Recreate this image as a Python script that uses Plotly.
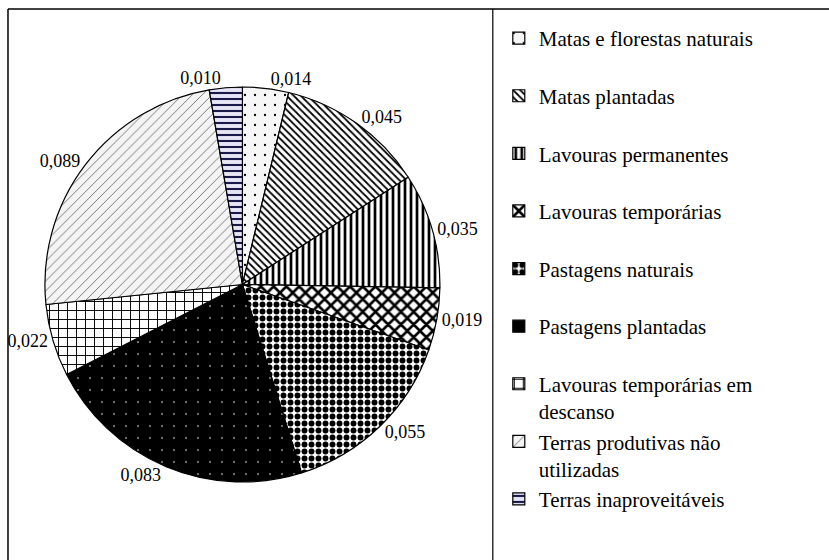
import plotly.graph_objects as go

W, H = 829, 560

categories = [
    "Matas e florestas naturais",
    "Matas plantadas",
    "Lavouras permanentes",
    "Lavouras temporárias",
    "Pastagens naturais",
    "Pastagens plantadas",
    "Lavouras temporárias em<br>descanso",
    "Terras produtivas não<br>utilizadas",
    "Terras inaproveitáveis",
]
values = [0.014, 0.045, 0.035, 0.019, 0.055, 0.083, 0.022, 0.089, 0.010]

# legend items in the reference all take two lines except the last one
legend_labels = []
for i, c in enumerate(categories):
    if "<br>" in c or i == len(categories) - 1:
        legend_labels.append(c)
    else:
        legend_labels.append(c + "<br> ")

shapes_ = [".", "\\", "|", "x", ".", ".", "+", "/", "-"]
fg = ["black", "black", "black", "black", "black", "white", "black", "#666666", "#1a1a4a"]
bg = ["#f6f6f6", "white", "white", "white", "white", "black", "white", "#f4f4f4", "#e6e6f6"]
sizes = [10, 5, 6, 9, 7, 12, 9, 7, 6]
solid = [0.04, 0.35, 0.45, 0.5, 0.55, 0.015, 0.2, 0.12, 0.35]

fig = go.Figure()
fig.add_trace(go.Pie(
    labels=legend_labels,
    values=values,
    sort=False,
    direction="clockwise",
    rotation=0,
    texttemplate="%{value:.3f}",
    textposition="outside",
    outsidetextfont=dict(family="Liberation Serif", size=18, color="black"),
    marker=dict(
        colors=bg,
        line=dict(color="black", width=1.2),
        pattern=dict(shape=shapes_, fgcolor=fg, bgcolor=bg, size=sizes, solidity=solid, fillmode="replace"),
    ),
    domain=dict(x=[42 / W, 440 / W], y=[1 - 482 / H, 1 - 87 / H]),
    hoverinfo="label+value",
))

# frame lines
fig.add_shape(type="line", xref="paper", yref="paper", x0=6 / W, x1=1, y0=1 - 9 / H, y1=1 - 9 / H,
              line=dict(color="black", width=1.5))
fig.add_shape(type="line", xref="paper", yref="paper", x0=6 / W, x1=6 / W, y0=0, y1=1 - 9 / H,
              line=dict(color="black", width=1.5))
fig.add_shape(type="line", xref="paper", yref="paper", x0=492 / W, x1=492 / W, y0=0, y1=1 - 9 / H,
              line=dict(color="black", width=1.2))

fig.update_layout(
    width=W, height=H,
    margin=dict(l=0, r=0, t=0, b=0),
    paper_bgcolor="white",
    plot_bgcolor="white",
    separators=",.",
    font=dict(family="Liberation Serif", color="black"),
    legend=dict(
        x=498 / W, y=1 - 18 / H, xanchor="left", yanchor="top",
        font=dict(family="Liberation Serif", size=21, color="black"),
        valign="top", bgcolor="rgba(0,0,0,0)", itemclick=False, itemdoubleclick=False,
    ),
)

# page has a default 8px body margin; drop it so the figure sits at 0,0
fig.write_html("out.html", config={"displayModeBar": False},
               post_script="document.body.style.margin='0px';")
